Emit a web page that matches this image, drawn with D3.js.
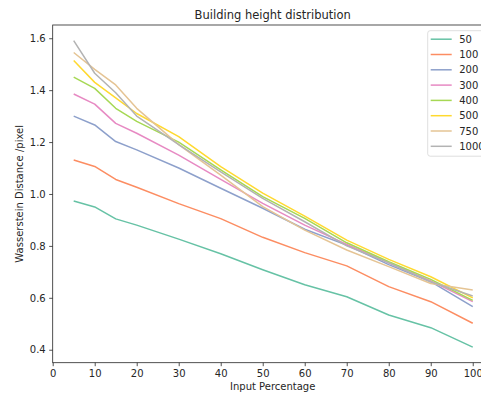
<!DOCTYPE html>
<html>
<head>
<meta charset="utf-8">
<script src="https://cdn.jsdelivr.net/npm/d3@7"></script>
<style>
  body { margin: 0; background: #fff; }
  text { font-family: "DejaVu Sans", sans-serif; fill: #262626; }
</style>
</head>
<body>
<svg id="chart" width="481" height="394"></svg>
<script>
var width = 481;
var height = 394;

// data
var percentages = [5, 10, 15, 20, 30, 40, 50, 60, 70, 80, 90, 100];
var seriesNames = ["50", "100", "200", "300", "400", "500", "750", "1000"];
var s50   = [0.973, 0.950, 0.904, 0.880, 0.826, 0.770, 0.708, 0.650, 0.604, 0.534, 0.485, 0.410];
var s100  = [1.131, 1.106, 1.056, 1.026, 0.963, 0.905, 0.833, 0.774, 0.723, 0.643, 0.585, 0.502];
var s200  = [1.300, 1.266, 1.202, 1.170, 1.100, 1.022, 0.945, 0.864, 0.803, 0.728, 0.662, 0.566];
var s300  = [1.385, 1.346, 1.272, 1.234, 1.150, 1.056, 0.964, 0.880, 0.806, 0.735, 0.665, 0.585];
var s400  = [1.450, 1.407, 1.330, 1.280, 1.200, 1.093, 0.990, 0.906, 0.812, 0.739, 0.671, 0.590];
var s500  = [1.514, 1.430, 1.370, 1.310, 1.221, 1.105, 1.003, 0.915, 0.822, 0.748, 0.681, 0.600];
var s750  = [1.545, 1.480, 1.420, 1.330, 1.190, 1.073, 0.951, 0.861, 0.784, 0.720, 0.655, 0.630];
var s1000 = [1.591, 1.465, 1.390, 1.300, 1.190, 1.085, 0.983, 0.893, 0.800, 0.735, 0.662, 0.607];
var xTicks = [0, 10, 20, 30, 40, 50, 60, 70, 80, 90, 100];
var yTicks = [0.4, 0.6, 0.8, 1.0, 1.2, 1.4, 1.6];

var allSeries = [s50, s100, s200, s300, s400, s500, s750, s1000];
var colors = ["#66c2a5", "#fc8d62", "#8da0cb", "#e78ac3", "#a6d854", "#ffd92f", "#e5c494", "#b3b3b3"];

var plot = { left: 52.7, right: 492.7, top: 25, bottom: 362.7 };

var svg = d3.select("#chart");

var scaleX = d3.scaleLinear()
               .domain([0, 104.75])
               .range([plot.left, plot.right]);

var scaleY = d3.scaleLinear()
               .domain([0.35, 1.651])
               .range([plot.bottom, plot.top]);

// lines
var line = d3.line()
             .x(function(d, i) { return scaleX(percentages[i]); })
             .y(function(d) { return scaleY(d); });

svg.append("g")
    .attr("class", "lines")
  .selectAll("path")
  .data(allSeries)
  .enter()
  .append("path")
    .attr("fill", "none")
    .attr("stroke", function(d, i) { return colors[i]; })
    .attr("stroke-width", 1.5)
    .attr("stroke-linejoin", "round")
    .attr("d", line);

// axes
var xAxis = svg.append("g")
               .attr("transform", "translate(0," + plot.bottom + ")")
               .call(d3.axisBottom(scaleX).tickValues(xTicks).tickSize(3.5).tickPadding(3.5));

var yAxis = svg.append("g")
               .attr("transform", "translate(" + plot.left + ",0)")
               .call(d3.axisLeft(scaleY).tickValues(yTicks).tickFormat(d3.format(".1f")).tickSize(3.5).tickPadding(3.5));

[xAxis, yAxis].forEach(function(ax) {
  ax.select(".domain").remove();
  ax.selectAll("line").attr("stroke", "#262626").attr("stroke-width", 0.8);
  ax.selectAll("text").attr("font-size", 10).style("font-family", "DejaVu Sans, sans-serif").attr("fill", "#262626");
});

// frame
svg.append("rect")
    .attr("x", plot.left)
    .attr("y", plot.top)
    .attr("width", plot.right - plot.left)
    .attr("height", plot.bottom - plot.top)
    .attr("fill", "none")
    .attr("stroke", "#262626")
    .attr("stroke-width", 0.8);

// title and labels
var midX = (plot.left + plot.right) / 2;

svg.append("text")
    .attr("x", midX)
    .attr("y", 19)
    .attr("text-anchor", "middle")
    .attr("font-size", 11.5)
    .text("Building height distribution");

svg.append("text")
    .attr("x", midX)
    .attr("y", 390)
    .attr("text-anchor", "middle")
    .attr("font-size", 10)
    .text("Input Percentage");

svg.append("text")
    .attr("transform", "rotate(-90)")
    .attr("x", -(plot.top + plot.bottom) / 2)
    .attr("y", 23)
    .attr("text-anchor", "middle")
    .attr("font-size", 10)
    .text("Wasserstein Distance /pixel");

// legend
var legend = svg.append("g")
                .attr("class", "legend")
                .attr("transform", "translate(427.7,30.7)");

legend.append("rect")
    .attr("width", 80)
    .attr("height", 125.5)
    .attr("rx", 2.5)
    .attr("fill", "#fff")
    .attr("fill-opacity", 0.8)
    .attr("stroke", "#d6d6d6")
    .attr("stroke-width", 0.8);

var items = legend.selectAll(".item")
                  .data(seriesNames)
                  .enter()
                  .append("g")
                  .attr("class", "item")
                  .attr("transform", function(d, i) { return "translate(0," + (8.5 + i * 15.3) + ")"; });

items.append("line")
    .attr("x1", 3)
    .attr("x2", 24)
    .attr("stroke", function(d, i) { return colors[i]; })
    .attr("stroke-width", 1.5);

items.append("text")
    .attr("x", 31.5)
    .attr("y", 3.6)
    .attr("font-size", 10)
    .text(function(d) { return d; });
</script>
</body>
</html>
